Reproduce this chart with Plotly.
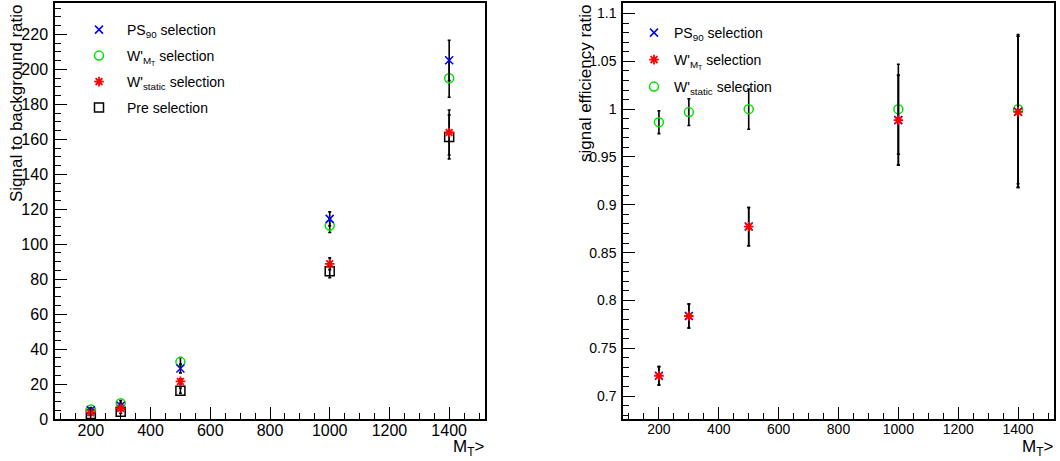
import plotly.graph_objects as go

W, H = 1060, 461

# ---------------- data ----------------
mt = [200, 300, 500, 1000, 1400]

# left panel: signal to background ratio
sb_ps90 = [5.0, 7.6, 28.9, 114.5, 205.2]
sb_ps90_err = [1.0, 1.5, 2.5, 4.0, 11.5]
sb_wmt = [5.5, 9.0, 32.7, 110.7, 194.9]
sb_wmt_err = [1.0, 1.5, 2.5, 4.0, 10.8]
sb_wstatic = [3.6, 6.1, 21.5, 88.8, 163.9]
sb_wstatic_err = [0.7, 1.0, 1.5, 3.4, 12.9]
sb_pre = [2.8, 4.2, 16.2, 84.6, 161.4]
sb_pre_err = [0.7, 1.0, 1.5, 3.8, 12.6]

# right panel: signal efficiency ratio
eff_ps90 = [0.7212, 0.7837, 0.8772, 0.9885, 0.9972]
eff_ps90_err = [0.0096, 0.0125, 0.020, 0.047, 0.079]
eff_wmt = [0.7212, 0.7837, 0.8772, 0.9885, 0.9972]
eff_wmt_err = [0.0096, 0.0125, 0.020, 0.047, 0.079]
eff_wstatic = [0.9864, 0.9969, 1.0000, 1.0000, 1.0000]
eff_wstatic_err = [0.012, 0.014, 0.021, 0.047, 0.078]

FONT = "Liberation Sans, Arial, sans-serif"

def px_x(p):
    return p / W

def px_y(p):
    return 1 - p / H

fig = go.Figure()

def err(vals):
    return dict(type="data", array=vals, color="black", thickness=1.6, width=1.5)

def add(x, y, e, name, symbol, color, size, lw, xa, ya, legend):
    fig.add_trace(go.Scatter(
        x=x, y=y, mode="markers", name=name,
        error_y=err(e),
        marker=dict(symbol=symbol, size=size, color=color,
                    line=dict(color=color, width=lw)),
        xaxis=xa, yaxis=ya, legend=legend, showlegend=True))

# left panel (draw order: square, circle, x, star)
add(mt, sb_pre, sb_pre_err, "Pre selection", "square-open", "black", 9, 1.5, "x", "y", "legend4")
add(mt, sb_wmt, sb_wmt_err, "W'<sub>M<sub>T</sub></sub> selection", "circle-open", "#00e000", 9, 1.5, "x", "y", "legend2")
add(mt, sb_ps90, sb_ps90_err, "PS<sub>90</sub> selection", "x-thin-open", "#0000ff", 8, 1.5, "x", "y", "legend")
add(mt, sb_wstatic, sb_wstatic_err, "W'<sub>static</sub> selection", "asterisk-open", "#ff0000", 8, 1.8, "x", "y", "legend3")

# right panel
add(mt, eff_wstatic, eff_wstatic_err, "W'<sub>static</sub> selection", "circle-open", "#00e000", 9, 1.5, "x2", "y2", "legend7")
add(mt, eff_ps90, eff_ps90_err, "PS<sub>90</sub> selection", "x-thin-open", "#0000ff", 8, 1.5, "x2", "y2", "legend5")
add(mt, eff_wmt, eff_wmt_err, "W'<sub>M<sub>T</sub></sub> selection", "asterisk-open", "#ff0000", 8, 1.8, "x2", "y2", "legend6")

# axes
common_x = dict(range=[80, 1520], dtick=200, tick0=0, ticks="inside", ticklen=12,
                tickwidth=1.2, tickcolor="black", showline=True, linecolor="black",
                linewidth=1.5, mirror=True, showgrid=False, zeroline=False,
                automargin=False, ticklabelstandoff=-4,
                minor=dict(dtick=50, ticks="inside", ticklen=6, tickcolor="black", tickwidth=1),
                )
common_y = dict(ticks="inside", ticklen=12, tickwidth=1.2, tickcolor="black",
                showline=True, linecolor="black", linewidth=1.5, mirror=True,
                showgrid=False, zeroline=False, automargin=False)

dom_y = [px_y(419), px_y(3)]
fig.update_layout(
    width=W, height=H, margin=dict(l=0, r=0, t=0, b=0, autoexpand=False),
    paper_bgcolor="white", plot_bgcolor="white",
    font=dict(family=FONT, color="black"),
    xaxis=dict(common_x, domain=[px_x(55), px_x(485)], anchor="y",
               tickfont=dict(size=16)),
    yaxis=dict(common_y, domain=dom_y, anchor="x", range=[0, 238], dtick=20,
               minor=dict(dtick=5, ticks="inside", ticklen=6, tickcolor="black", tickwidth=1),
               tickfont=dict(size=16), ticklabelstandoff=2),
    xaxis2=dict(common_x, domain=[px_x(623), px_x(1054)], anchor="y2",
                tickfont=dict(size=14)),
    yaxis2=dict(common_y, domain=dom_y, anchor="x2", range=[0.676, 1.111], dtick=0.05,
                tickformat="~g",
                minor=dict(dtick=0.01, ticks="inside", ticklen=6, tickcolor="black", tickwidth=1),
                tickfont=dict(size=14), ticklabelstandoff=2),
)

def legend_at(xl, yc, iw):
    return dict(x=px_x(xl), y=px_y(yc), xanchor="left", yanchor="middle",
                bgcolor="rgba(0,0,0,0)", borderwidth=0, font=dict(size=14, family=FONT),
                itemwidth=iw)

fig.update_layout(
    legend=legend_at(71, 30, 46),
    legend2=legend_at(71, 56, 46),
    legend3=legend_at(71, 82, 46),
    legend4=legend_at(71, 108, 46),
    legend5=legend_at(634, 33, 30),
    legend6=legend_at(634, 60, 30),
    legend7=legend_at(634, 87, 30),
)

# axis titles
fig.add_annotation(text="Signal to background ratio", textangle=-90, font=dict(size=17),
                   x=px_x(16), y=px_y(2), xref="paper", yref="paper",
                   xanchor="center", yanchor="top", showarrow=False)
fig.add_annotation(text="signal efficiency ratio", textangle=-90, font=dict(size=17),
                   x=px_x(585), y=px_y(2), xref="paper", yref="paper",
                   xanchor="center", yanchor="top", showarrow=False)
fig.add_annotation(text="M<sub>T</sub>>", font=dict(size=17),
                   x=px_x(486), y=px_y(435), xref="paper", yref="paper",
                   xanchor="right", yanchor="top", showarrow=False)
fig.add_annotation(text="M<sub>T</sub>>", font=dict(size=17),
                   x=px_x(1055), y=px_y(435), xref="paper", yref="paper",
                   xanchor="right", yanchor="top", showarrow=False)

fig.write_html("out.html")
